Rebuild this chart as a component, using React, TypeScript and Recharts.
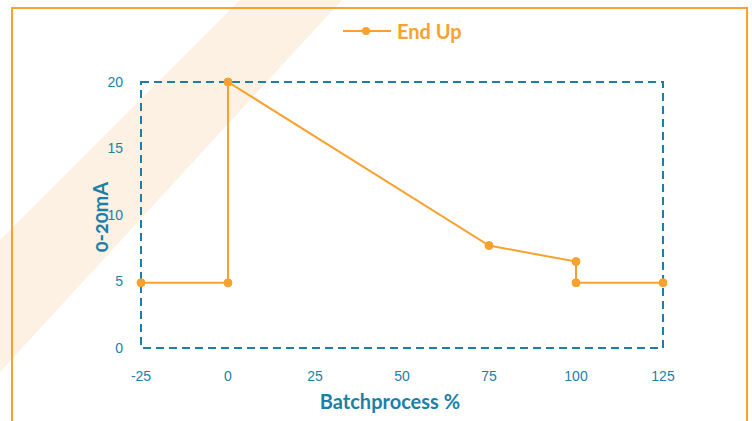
import { Label, Legend, Line, LineChart, ReferenceArea, XAxis, YAxis } from "recharts"

const batchPercent = [-25, 0, 0, 75, 100, 100, 125]
const endUpMa = [4.9, 4.9, 20, 7.7, 6.5, 4.9, 4.9]
const xTicks = [-25, 0, 25, 50, 75, 100, 125]
const yTicks = [0, 5, 10, 15, 20]

const data = batchPercent.map((x, i) => ({ x, y: endUpMa[i] }))

const ORANGE = "#F9A12E"
const BLUE = "#1B80A8"

function LegendContent() {
  return (
    <div style={{ display: "flex", alignItems: "center" }}>
      <svg width={48} height={12}>
        <line x1={0} y1={6} x2={48} y2={6} stroke={ORANGE} strokeWidth={2} />
        <circle cx={23} cy={6} r={4} fill={ORANGE} />
      </svg>
      <span
        style={{
          marginLeft: 6,
          color: ORANGE,
          fontFamily: "Lato",
          fontWeight: 700,
          fontSize: 20,
        }}
      >
        End Up
      </span>
    </div>
  )
}

export default function App() {
  return (
    <div style={{ position: "absolute", left: 0, top: 0, width: 752, height: 421, overflow: "hidden", background: "#fff" }}>
      {/* watermark band */}
      <svg width={752} height={421} style={{ position: "absolute", left: 0, top: 0 }}>
        <polygon points="240,0 342,0 0,372 0,240" fill="#FDF1E3" />
      </svg>
      {/* outer frame */}
      <div
        style={{
          position: "absolute",
          left: 11,
          top: 7,
          width: 733,
          height: 430,
          border: `2px solid ${ORANGE}`,
        }}
      />
      <div style={{ position: "absolute", left: 0, top: 0 }}>
        <LineChart width={752} height={421} data={data} margin={{ top: 82, right: 89, left: 81, bottom: 43 }}>
          <ReferenceArea
            x1={-25}
            x2={125}
            y1={0}
            y2={20}
            fill="none"
            stroke={BLUE}
            strokeWidth={2}
            strokeDasharray="8 5"
            ifOverflow="visible"
          />
          <XAxis
            dataKey="x"
            type="number"
            domain={[-25, 125]}
            ticks={xTicks}
            axisLine={false}
            tickLine={false}
            tickMargin={17}
            height={30}
            tick={{ fill: BLUE, fontSize: 14, fontFamily: "Liberation Sans" }}
          >
            <Label
              content={({ viewBox }: any) => (
                <text
                  x={viewBox.x + viewBox.width / 2 - 12}
                  y={409}
                  textAnchor="middle"
                  fill={BLUE}
                  fontFamily="Lato"
                  fontWeight={700}
                  fontSize={20}
                >
                  Batchprocess %
                </text>
              )}
            />
          </XAxis>
          <YAxis
            type="number"
            domain={[0, 20]}
            ticks={yTicks}
            axisLine={false}
            tickLine={false}
            tickMargin={12}
            width={60}
            tick={{ fill: BLUE, fontSize: 14, fontFamily: "Liberation Sans" }}
          >
            <Label
              content={({ viewBox }: any) => {
                const cx = 100
                const cy = viewBox.y + viewBox.height / 2 + 2
                return (
                  <text
                    x={cx}
                    y={cy}
                    transform={`rotate(-90 ${cx} ${cy})`}
                    textAnchor="middle"
                    dominantBaseline="central"
                    fill={BLUE}
                    fontFamily="Lato"
                    fontWeight={700}
                    fontSize={20}
                    style={{ fontVariantNumeric: "oldstyle-nums" }}
                  >
                    0-20mA
                  </text>
                )
              }}
            />
          </YAxis>
          <Legend
            layout="horizontal"
            verticalAlign="middle"
            align="center"
            content={<LegendContent />}
            wrapperStyle={{ top: 19, left: 343, width: "auto" }}
          />
          <Line
            dataKey="y"
            type="linear"
            stroke={ORANGE}
            strokeWidth={2}
            dot={{ r: 4, fill: ORANGE, stroke: ORANGE, strokeWidth: 1 }}
            activeDot={false}
            isAnimationActive={false}
            legendType="line"
          />
        </LineChart>
      </div>
    </div>
  )
}
